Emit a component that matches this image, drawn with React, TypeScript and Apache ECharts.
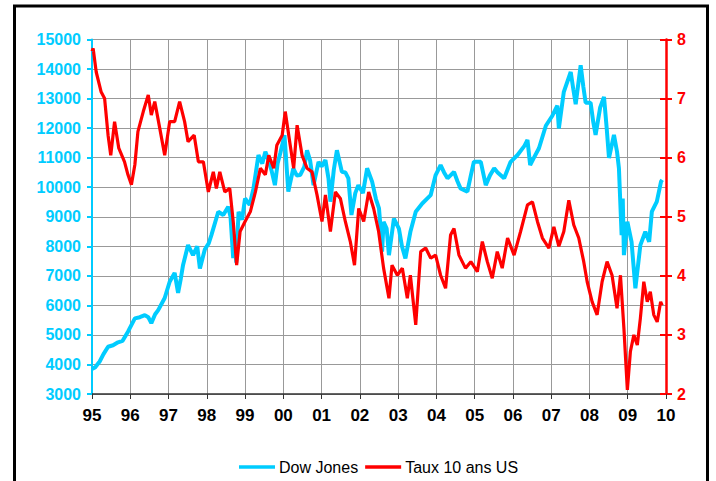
import React, { useEffect, useRef } from "react";
import * as echarts from "echarts";

const djDates = [1995.0,1995.08,1995.2,1995.3,1995.42,1995.55,1995.68,1995.8,1995.94,1996.12,1996.25,1996.38,1996.47,1996.55,1996.65,1996.73,1996.9,1997.03,1997.16,1997.25,1997.32,1997.38,1997.51,1997.64,1997.75,1997.82,1997.95,1998.05,1998.12,1998.3,1998.43,1998.56,1998.62,1998.69,1998.72,1998.77,1998.83,1998.92,1999.0,1999.12,1999.22,1999.35,1999.45,1999.53,1999.62,1999.7,1999.78,1999.85,1999.92,2000.03,2000.13,2000.26,2000.35,2000.44,2000.55,2000.62,2000.7,2000.79,2000.92,2001.0,2001.1,2001.18,2001.23,2001.32,2001.4,2001.53,2001.62,2001.7,2001.78,2001.88,2001.96,2002.08,2002.19,2002.32,2002.42,2002.5,2002.56,2002.58,2002.62,2002.7,2002.76,2002.89,2003.02,2003.1,2003.19,2003.32,2003.46,2003.63,2003.85,2003.98,2004.11,2004.2,2004.29,2004.46,2004.55,2004.63,2004.81,2004.9,2004.98,2005.16,2005.29,2005.4,2005.51,2005.6,2005.77,2005.94,2006.12,2006.3,2006.38,2006.45,2006.55,2006.68,2006.86,2007.03,2007.16,2007.2,2007.33,2007.51,2007.58,2007.64,2007.77,2007.84,2007.9,2008.03,2008.1,2008.16,2008.28,2008.38,2008.45,2008.51,2008.64,2008.72,2008.77,2008.84,2008.87,2008.9,2008.99,2009.1,2009.2,2009.33,2009.46,2009.56,2009.63,2009.76,2009.87,2009.9];
const djValues = [3850,3900,4100,4350,4600,4650,4750,4800,5110,5560,5600,5670,5600,5400,5700,5840,6250,6800,7100,6420,6900,7370,8040,7700,8000,7250,7900,8100,8380,9170,9060,9340,9000,7600,8400,7450,9170,8900,9620,9400,9960,11090,10800,11200,10900,10520,10070,10800,11150,11760,9850,10640,10400,10410,10700,11250,10900,10070,10860,10700,10920,10300,9510,10600,11250,10520,10500,10300,9060,9800,10070,9800,10640,10190,9600,9280,8300,7820,8830,8600,7700,8940,8600,8000,7590,8490,9170,9450,9730,10410,10750,10500,10300,10520,10200,9960,9850,10400,10860,10860,10070,10400,10640,10500,10300,10860,11090,11400,11600,10750,11000,11320,12080,12420,12760,11990,13230,13900,13300,12810,14130,13400,12860,12860,12200,11770,12700,13060,12000,10990,11770,11200,10640,8380,9620,7700,8830,8150,6580,8040,8490,8150,9170,9510,10190,10250];

const rateDates = [1995.0,1995.03,1995.11,1995.24,1995.33,1995.42,1995.49,1995.59,1995.7,1995.85,1995.94,1996.03,1996.12,1996.2,1996.34,1996.47,1996.55,1996.64,1996.77,1996.9,1997.03,1997.16,1997.29,1997.42,1997.51,1997.67,1997.78,1997.91,1998.04,1998.17,1998.25,1998.34,1998.47,1998.6,1998.69,1998.78,1998.87,1999.0,1999.14,1999.27,1999.4,1999.53,1999.62,1999.75,1999.83,1999.97,2000.05,2000.18,2000.27,2000.36,2000.49,2000.62,2000.75,2000.88,2001.01,2001.1,2001.23,2001.36,2001.49,2001.62,2001.75,2001.86,2001.97,2002.1,2002.23,2002.36,2002.49,2002.62,2002.76,2002.84,2002.98,2003.11,2003.24,2003.32,2003.46,2003.59,2003.72,2003.85,2003.98,2004.11,2004.24,2004.37,2004.46,2004.59,2004.76,2004.9,2005.07,2005.2,2005.33,2005.46,2005.59,2005.72,2005.86,2006.03,2006.2,2006.38,2006.51,2006.64,2006.77,2006.94,2007.07,2007.2,2007.33,2007.46,2007.59,2007.72,2007.85,2007.94,2008.07,2008.2,2008.33,2008.46,2008.59,2008.72,2008.81,2008.9,2008.99,2009.07,2009.16,2009.25,2009.33,2009.42,2009.51,2009.59,2009.68,2009.77,2009.86,2009.9];
const rateValues = [7.8,7.85,7.45,7.11,7.0,6.38,6.04,6.61,6.16,5.93,5.71,5.54,5.88,6.44,6.78,7.06,6.72,6.95,6.5,6.04,6.61,6.61,6.95,6.61,6.27,6.38,5.93,5.93,5.42,5.76,5.48,5.76,5.42,5.48,4.92,4.18,4.75,4.92,5.09,5.42,5.82,5.71,6.04,5.82,6.21,6.38,6.78,6.21,5.82,6.55,6.04,5.82,5.76,5.37,4.92,5.37,4.75,5.42,5.31,4.92,4.58,4.18,5.14,4.92,5.42,5.14,4.75,4.13,3.62,4.18,4.01,4.13,3.62,4.01,3.17,4.41,4.47,4.3,4.35,4.01,3.79,4.69,4.8,4.35,4.13,4.24,4.07,4.58,4.24,3.96,4.41,4.13,4.64,4.35,4.75,5.2,5.25,4.92,4.64,4.47,4.83,4.5,4.75,5.28,4.86,4.64,4.24,3.9,3.56,3.34,3.9,4.24,4.01,3.45,4.01,3.11,2.07,2.72,3.0,2.83,3.28,3.9,3.56,3.73,3.34,3.22,3.56,3.5];

const seriesNames = ["Dow Jones", "Taux 10 ans US"];
const CYAN = "#00CCFF";
const RED = "#FF0000";
const FONT = "Liberation Sans, Arial, sans-serif";

export default function App() {
  const ref = useRef<HTMLDivElement>(null);
  useEffect(() => {
    document.body.style.margin = "0";
    const chart = echarts.init(ref.current!, null, { renderer: "svg" });
    const dj = djDates.map((d, i) => [d, djValues[i]]);
    const rate = rateDates.map((d, i) => [d, rateValues[i]]);
    chart.setOption({
      animation: false,
      backgroundColor: "#fff",
      textStyle: { fontFamily: FONT },
      grid: { left: 92, right: 50, top: 39.5, bottom: 87, containLabel: false },
      legend: {
        data: [
          { name: seriesNames[0], icon: "rect", itemStyle: { color: CYAN } },
          { name: seriesNames[1], icon: "rect", itemStyle: { color: RED } },
        ],
        left: 234,
        top: 454,
        itemWidth: 36,
        itemHeight: 3.5,
        itemGap: 7,
        textStyle: { color: "#000", fontSize: 16, fontFamily: FONT, padding: [0, 0, 0, -1] },
      },
      xAxis: {
        type: "value",
        min: 1995,
        max: 2010,
        interval: 1,
        axisLine: { show: true, lineStyle: { color: "#333", width: 1.5 } },
        axisTick: { show: true, length: 5, lineStyle: { color: "#333" } },
        axisLabel: {
          margin: 13,
          color: "#000",
          fontSize: 17,
          fontWeight: "bold",
          showMinLabel: true,
          showMaxLabel: true,
          formatter: (v: number) => String(Math.round(v) % 100).padStart(2, "0"),
        },
        splitLine: { show: true, lineStyle: { color: "#999", width: 1 } },
      },
      yAxis: [
        {
          type: "value",
          position: "left",
          min: 3000,
          max: 15000,
          interval: 1000,
          axisLine: { show: true, lineStyle: { color: CYAN, width: 2 } },
          axisTick: { show: true, length: 5, lineStyle: { color: CYAN, width: 2 } },
          axisLabel: { margin: 11, color: CYAN, fontSize: 16, fontWeight: "bold", formatter: (v: number) => String(v) },
          splitLine: { show: true, lineStyle: { color: "#999", width: 1 } },
        },
        {
          type: "value",
          position: "right",
          min: 2,
          max: 8,
          interval: 1,
          axisLine: { show: true, lineStyle: { color: RED, width: 2.5 } },
          axisTick: { show: true, length: 6, lineStyle: { color: RED, width: 2 } },
          axisLabel: { margin: 11, color: RED, fontSize: 16, fontWeight: "bold", formatter: (v: number) => String(v) },
          splitLine: { show: false },
        },
        {
          type: "value",
          position: "right",
          min: 2,
          max: 8,
          interval: 1,
          axisLine: { show: false },
          axisTick: { show: true, inside: true, length: 6, lineStyle: { color: RED, width: 2 } },
          axisLabel: { show: false },
          splitLine: { show: false },
        },
      ],
      series: [
        {
          name: seriesNames[0],
          type: "line",
          yAxisIndex: 0,
          data: dj,
          symbol: "none",
          lineStyle: { color: CYAN, width: 4 },
          itemStyle: { color: CYAN },
        },
        {
          name: seriesNames[1],
          type: "line",
          yAxisIndex: 1,
          data: rate,
          symbol: "none",
          lineStyle: { color: RED, width: 3.2 },
          itemStyle: { color: RED },
        },
      ],
      graphic: [
        {
          type: "rect",
          shape: { x: 14.5, y: 6, width: 693, height: 500 },
          style: { fill: "none", stroke: "#000", lineWidth: 3 },
          silent: true,
        },
      ],
    });
    return () => chart.dispose();
  }, []);
  return <div ref={ref} style={{ width: 716, height: 481 }} />;
}
